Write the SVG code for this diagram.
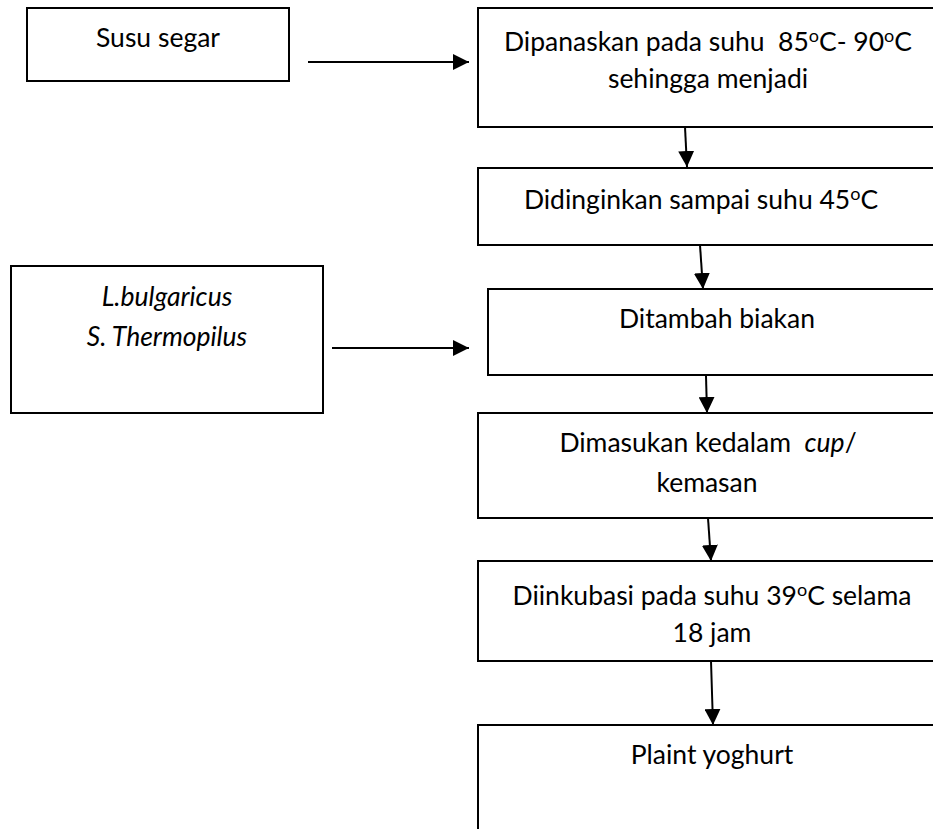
<svg xmlns="http://www.w3.org/2000/svg" width="933" height="829" viewBox="0 0 933 829">
<style>
.box{fill:#fff;stroke:#000;stroke-width:2}
.t{font-family:Lato,"Open Sans",sans-serif;font-size:26.5px;fill:#000;text-anchor:middle;white-space:pre}
.i{font-style:italic}
.sup{font-size:18px}
.conn line{stroke:#000;stroke-width:2}
</style>
<defs>
<marker id="ah" viewBox="0 0 10 10" refX="10" refY="5" markerWidth="16" markerHeight="16" markerUnits="userSpaceOnUse" orient="auto">
<path d="M0,0 L10,5 L0,10 Z" fill="#000"/>
</marker>
</defs>
<rect width="933" height="829" fill="#fff"/>
<g id="susu-segar">
<rect class="box" x="27" y="8" width="262" height="73"/>
<text class="t" x="158" y="47">Susu segar</text>
</g>
<g id="biakan">
<rect class="box" x="11" y="266" width="312" height="147"/>
<text class="t i" x="167" y="306">L.bulgaricus</text>
<text class="t i" x="167" y="346">S. Thermopilus</text>
</g>
<g id="dipanaskan">
<rect class="box" x="478" y="8" width="480" height="119"/>
<text class="t" x="708" y="51">Dipanaskan pada suhu  85<tspan class="sup" dy="-9">o</tspan><tspan dy="9">C- 90</tspan><tspan class="sup" dy="-9">o</tspan><tspan dy="9">C</tspan></text>
<text class="t" x="708" y="88">sehingga menjadi</text>
</g>
<g id="didinginkan">
<rect class="box" x="478" y="168" width="480" height="77"/>
<text class="t" x="701" y="209">Didinginkan sampai suhu 45<tspan class="sup" dy="-9">o</tspan><tspan dy="9">C</tspan></text>
</g>
<g id="ditambah">
<rect class="box" x="488" y="289" width="470" height="86"/>
<text class="t" x="717" y="328">Ditambah biakan</text>
</g>
<g id="dimasukan">
<rect class="box" x="478" y="413" width="480" height="105"/>
<text class="t" x="708" y="452">Dimasukan kedalam  <tspan class="i">cup</tspan>/</text>
<text class="t" x="707" y="492">kemasan</text>
</g>
<g id="diinkubasi">
<rect class="box" x="478" y="561" width="480" height="100"/>
<text class="t" x="712" y="605">Diinkubasi pada suhu 39<tspan class="sup" dy="-9">o</tspan><tspan dy="9">C selama</tspan></text>
<text class="t" x="712" y="642">18 jam</text>
</g>
<g id="plaint-yoghurt">
<rect class="box" x="478" y="725" width="480" height="140"/>
<text class="t" x="712" y="764">Plaint yoghurt</text>
</g>
<g class="conn" id="connectors">
<line x1="308" y1="62" x2="469" y2="62" marker-end="url(#ah)"/>
<line x1="332" y1="348" x2="469" y2="348" marker-end="url(#ah)"/>
<line x1="685" y1="127" x2="687" y2="167" marker-end="url(#ah)"/>
<line x1="700" y1="245" x2="703" y2="289" marker-end="url(#ah)"/>
<line x1="706" y1="376" x2="707" y2="413" marker-end="url(#ah)"/>
<line x1="708" y1="518" x2="711" y2="561" marker-end="url(#ah)"/>
<line x1="711" y1="661" x2="713" y2="725" marker-end="url(#ah)"/>
</g>
</svg>
